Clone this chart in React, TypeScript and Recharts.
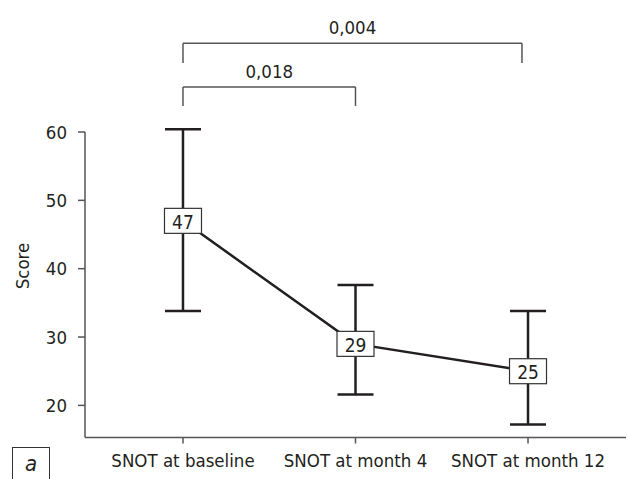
import { LineChart, Line, XAxis, YAxis, ErrorBar, LabelList, ReferenceLine } from "recharts";

const categories = ["SNOT at baseline", "SNOT at month 4", "SNOT at month 12"];
const meanScores = [47, 29, 25];
const upperBounds = [60.4, 37.6, 33.8];
const lowerBounds = [33.8, 21.6, 17.2];
const yTicks = [20, 30, 40, 50, 60];
const pValues = ["0,018", "0,004"];

const FONT = '"DejaVu Sans Condensed", "DejaVu Sans", sans-serif';
const FS = 18.5;
const INK = "#231f20";
const AXIS = "#555";

const data = categories.map((name, i) => ({
  x: i,
  name,
  score: meanScores[i],
  err: [meanScores[i] - lowerBounds[i], upperBounds[i] - meanScores[i]],
}));

// comparison brackets: [from, to, bar level, leg end]
const brackets = [
  { from: 0, to: 1, top: 66.6, leg: 63.8, p: pValues[0] },
  { from: 0, to: 1.965, top: 73, leg: 70.1, p: pValues[1] },
];

const ScoreBox = (props: any) => {
  const { x, y, value } = props;
  return (
    <g>
      <rect x={x - 18.5} y={y - 12.5} width={37} height={25} fill="#fff" stroke="#333" strokeWidth={1.2} />
      <text x={x} y={y + 1} textAnchor="middle" dominantBaseline="central" fontSize={19} fill={INK} fontFamily={FONT}>
        {value}
      </text>
    </g>
  );
};

export default function App() {
  return (
    <div style={{ position: "absolute", left: 0, top: 0, width: 628, height: 479, background: "#fff", fontFamily: FONT }}>
      <LineChart width={628} height={479} data={data} margin={{ top: 132, right: 2, bottom: 0, left: 0 }}>
        <XAxis
          dataKey="x"
          type="number"
          domain={[-0.568, 2.568]}
          allowDataOverflow
          ticks={[0, 1, 2]}
          tickFormatter={(i: number) => categories[i]}
          height={41.5}
          stroke={AXIS}
          strokeWidth={1.5}
          tickSize={6}
          tickMargin={10}
          tick={{ fill: INK, fontSize: FS }}
        />
        <YAxis
          domain={[15.3, 60]}
          allowDataOverflow
          ticks={yTicks}
          width={85}
          stroke={AXIS}
          strokeWidth={1.5}
          tickSize={7}
          tickMargin={11}
          tick={{ fill: INK, fontSize: FS }}
          label={{
            content: () => (
              <text x={22} y={266} transform="rotate(-90 22 266)" textAnchor="middle" dominantBaseline="central" fontSize={FS} fill={INK} fontFamily={FONT}>
                Score
              </text>
            ),
          }}
        />
        {brackets.map((b, i) => [
          <ReferenceLine
            key={`bar-${i}`}
            segment={[{ x: b.from, y: b.top }, { x: b.to, y: b.top }]}
            stroke={AXIS}
            strokeWidth={1.5}
            ifOverflow="visible"
            label={{ value: b.p, position: "top", offset: 9, fill: INK, fontSize: FS }}
          />,
          <ReferenceLine
            key={`l-${i}`}
            segment={[{ x: b.from, y: b.top }, { x: b.from, y: b.leg }]}
            stroke={AXIS}
            strokeWidth={1.5}
            ifOverflow="visible"
          />,
          <ReferenceLine
            key={`r-${i}`}
            segment={[{ x: b.to, y: b.top }, { x: b.to, y: b.leg }]}
            stroke={AXIS}
            strokeWidth={1.5}
            ifOverflow="visible"
          />,
        ])}
        <Line dataKey="score" type="linear" stroke={INK} strokeWidth={2.5} dot={false} isAnimationActive={false}>
          <ErrorBar dataKey="err" direction="y" width={18} stroke={INK} strokeWidth={2.5} isAnimationActive={false} />
          <LabelList dataKey="score" content={ScoreBox} />
        </Line>
      </LineChart>
      <div
        style={{
          position: "absolute",
          left: 12,
          top: 447,
          width: 36,
          height: 40,
          border: "1px solid #333",
          fontStyle: "italic",
          fontSize: 22,
          color: INK,
          textAlign: "center",
          lineHeight: "32px",
        }}
      >
        a
      </div>
    </div>
  );
}
